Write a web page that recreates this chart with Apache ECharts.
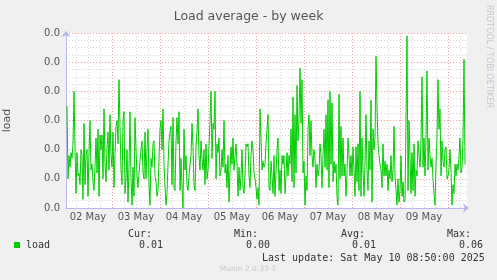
<!DOCTYPE html>
<html><head><meta charset="utf-8">
<script src="https://cdn.jsdelivr.net/npm/echarts@6/dist/echarts.min.js"></script>
<style>html,body{margin:0;padding:0;background:#f0f0f0;}#c{width:497px;height:280px;}</style>
</head><body><div id="c"></div>
<script>
// ---- data ----
const chartTitle = 'Load average - by week';
const yAxisName = 'load';
const dayLabels = ['02 May','03 May','04 May','05 May','06 May','07 May','08 May','09 May'];
const labelHours = [12,36,60,84,108,132,156,180];          // hours since 02 May 00:00 (noon of each day)
const dayStartHours = [24,48,72,96,120,144,168,192];       // midnight boundaries
const sixHourMarks = [6,18,30,42,54,66,78,90,102,114,126,138,150,162,174,186,198,
                      12,36,60,84,108,132,156,180];
const yTickLabel = '0.0';                                   // every y tick reads 0.0 in the original
// load in thousandths, one sample per 30 minutes, first sample at 01:30 on 02 May
const firstSampleHour = 1.5;
const sampleStepHours = 0.5;
const loadMilli = [
35,10,18,14,19,17,22,40,20,5, 19,11,12,8,20,18,3,29,8,18, 20,4,19,30,13,15,9,6,14,24,
12,27,4,25,20,25,10,34,15,9, 21,26,13,32,18,14,26,7,18,28, 30,22,44,28,13,8,30,33,5,10,
20,2,14,33,10,1,14,
4,31,20,11,7,12,16,20,23,12, 10,26,10,20,27,8,1,17,14,22, 23,11,9,4,6,17,27,30,20,34,
15,7,1,5,15,23,26,28,8,31, 7,6,23,31,22,33,6,17,7,0, 27,13,18,8,6,11,15,18,29,21,
8,6,21,26,34,18,13,23,
17,13,20,8,22,10,13,21,30,40, 17,29,27,40,10,22,19,24,11,13, 20,14,30,12,15,7,18,2,13,21,
15,24,13,18,22,15,4,14,6,11, 20,7,5,11,22,21,22,11,7,18, 23,20,12,10,7,3,7,1,34,24,
13,16,14,15,22,27,32,7,
6,16,11,5,18,4,12,20,24,6, 13,5,18,15,18,5,11,19,11,18, 15,27,9,38,7,32,12,42,23,31,
48,29,44,12,16,1,11,6,27,32, 18,30,18,14,20,17,7,15,11,13, 22,18,7,18,27,14,32,13,37,7,
40,15,36,9,16,12,15,4,
1,39,10,28,11,24,11,15,4,12, 24,18,11,18,11,21,13,4,21,9, 22,6,40,4,24,13,4,15,32,13,
6,23,13,37,2,27,20,24,52,35, 22,18,15,13,7,22,11,16,11,15, 6,13,10,18,9,13,28,11,6,1,
10,2,6,18,4,9,2,3,
30,59,6,30,18,5,19,6,22,4, 13,11,23,23,14,23,45,14,24,11, 24,47,13,24,18,14,17,10,5,1,
15,24,44,27,34,11,23,16,14,20, 21,10,11,13,20,13,1,8,5,15, 11,15,13,18,24,12,14,23,51,15
];
const legendName = 'load';
const statHeaders = ['Cur:','Min:','Avg:','Max:'];
const statValues = ['0.01','0.00','0.01','0.06'];
const lastUpdate = 'Last update: Sat May 10 08:50:00 2025';
const watermark = 'RRDTOOL / TOBI OETIKER';
const footer = 'Munin 2.0.33-1';

// ---- chart ----
const chart = echarts.init(document.getElementById('c'), null, {renderer:'canvas'});
const axisBlue = '#b8b8ee';
const majorGrid = '#f0a0a0';
const minorGrid = '#d4d4d4';
const mono = '10px "DejaVu Sans Mono"';
const headerX = [128,234,341,447];
const valueX = [139,246,352,459];
const graphics = [
  {type:'text', x:489, y:5, rotation:-Math.PI/2, style:{text:watermark, font:'8px "DejaVu Sans"', fill:'#c8c8c8', align:'left', verticalAlign:'middle'}},
  {type:'rect', shape:{x:14, y:242, width:6, height:6}, style:{fill:'#00cc00'}},
  {type:'text', x:26, y:245, style:{text:legendName, font:mono, fill:'#333', verticalAlign:'middle'}},
  {type:'text', x:262, y:258, style:{text:lastUpdate, font:mono, fill:'#333', verticalAlign:'middle'}},
  {type:'text', x:248, y:269, style:{text:footer, font:'7.5px "DejaVu Sans"', fill:'#c8c8c8', align:'center', verticalAlign:'middle'}}
];
statHeaders.forEach((h,i)=>{
  graphics.push({type:'text', x:headerX[i], y:234, style:{text:h, font:mono, fill:'#333', verticalAlign:'middle'}});
  graphics.push({type:'text', x:valueX[i], y:245, style:{text:statValues[i], font:mono, fill:'#333', verticalAlign:'middle'}});
});

chart.setOption({
  animation:false,
  backgroundColor:'#f0f0f0',
  title:{text:chartTitle, left:'center', top:5, textStyle:{fontSize:12.5, fontWeight:'normal', color:'#555', fontFamily:'DejaVu Sans'}},
  grid:{left:66, top:33, width:401, height:175, show:true, backgroundColor:'#ffffff', borderWidth:0,
        containLabel:false, outerBoundsMode:'none'},
  xAxis:[
    {type:'value', min:1, max:201.5, position:'bottom',
     axisLine:{show:true, onZero:false, lineStyle:{color:axisBlue, width:1}, symbol:['none','arrow'], symbolSize:[7,6], symbolOffset:[0,2]},
     axisTick:{show:false, customValues:dayStartHours},
     splitLine:{show:true, lineStyle:{color:majorGrid, width:1, type:[1,2]}},
     axisLabel:{customValues:labelHours, formatter:v=>dayLabels[labelHours.indexOf(v)], color:'#555', fontFamily:'DejaVu Sans', fontSize:10, margin:4}},
    {type:'value', min:1, max:201.5, position:'top', show:true,
     axisLine:{show:false}, axisLabel:{show:false},
     axisTick:{show:false, customValues:sixHourMarks},
     splitLine:{show:true, lineStyle:{color:minorGrid, width:1, type:[1,2]}}}
  ],
  yAxis:{type:'value', min:0, max:60, interval:10,
    name:yAxisName, nameLocation:'middle', nameGap:53,
    nameTextStyle:{color:'#555', fontSize:11, fontFamily:'DejaVu Sans'},
    axisLine:{show:true, onZero:false, lineStyle:{color:axisBlue, width:1}, symbol:['none','arrow'], symbolSize:[7,6], symbolOffset:[0,2]},
    axisTick:{show:false},
    axisLabel:{formatter:()=>yTickLabel, color:'#555', fontFamily:'DejaVu Sans', fontSize:10, margin:6},
    splitLine:{show:true, lineStyle:{color:majorGrid, width:1, type:[1,2]}},
    minorTick:{show:false, splitNumber:4},
    minorSplitLine:{show:true, lineStyle:{color:minorGrid, width:1, type:[1,2]}}
  },
  series:[{
    type:'line', xAxisIndex:0, silent:true, showSymbol:false, symbol:'none',
    lineStyle:{color:'#00cc00', width:1},
    data:loadMilli.map((v,i)=>[firstSampleHour + i*sampleStepHours, v])
  }],
  graphic:graphics
});
</script>
</body></html>
